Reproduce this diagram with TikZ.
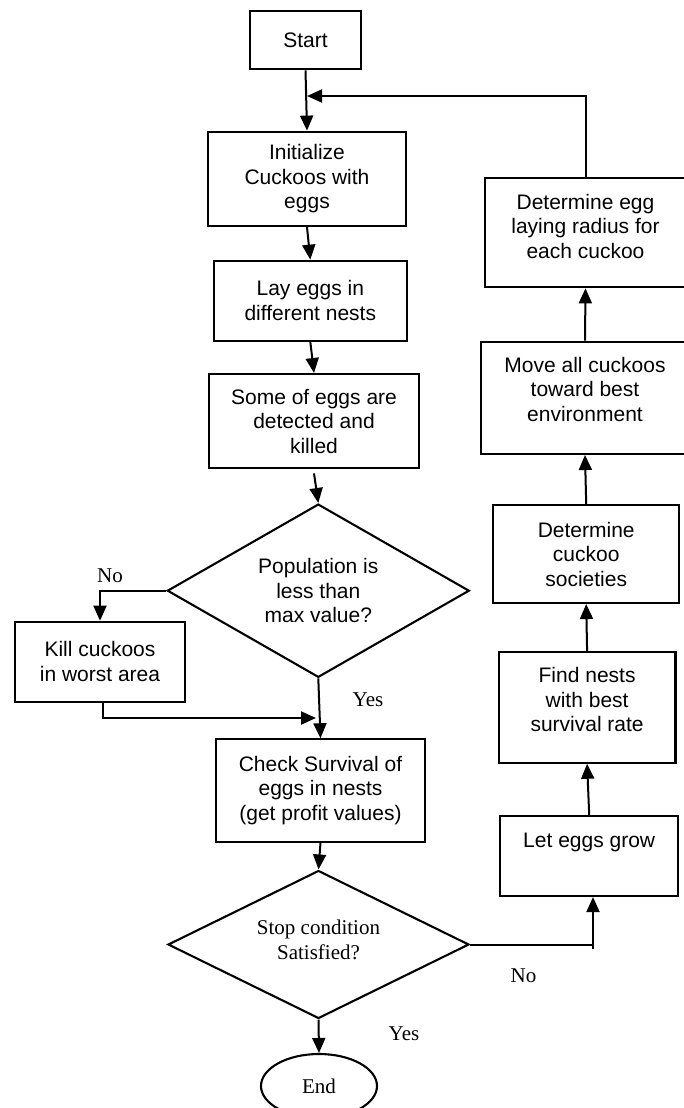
\documentclass[tikz,border=0pt]{standalone}
\usepackage{fontspec}
\setmainfont{Liberation Serif}
\setsansfont{Liberation Sans}
\usetikzlibrary{positioning, arrows.meta, shapes.geometric}

\begin{document}
\begin{tikzpicture}[
  x=1pt, y=-1pt,
  every node/.style={font=\fontsize{21}{24.5}\selectfont},
  blk/.style={draw, line width=2.1pt, align=center, inner sep=0pt,
              font=\sffamily\fontsize{21}{24.5}\selectfont},
  dec/.style={draw, diamond, line width=2.1pt, align=center, inner sep=0pt},
  term/.style={draw, ellipse, line width=2.1pt, inner sep=0pt},
  lbl/.style={font=\fontsize{21}{24}\selectfont},
  arr/.style={-{Triangle[length=15pt,width=13pt]}, line width=2pt}
]
\useasboundingbox (0,0) rectangle (683,1108);

\node[blk, minimum width=111pt, minimum height=58.6pt] (start) at (305.5,40) {Start};
\node[blk, minimum width=197.4pt, minimum height=94.3pt] (init) at (307,178.8)
   {Initialize\\Cuckoos with\\eggs};
\node[blk, minimum width=192.7pt, minimum height=80pt] (lay) at (310.3,300.7)
   {Lay eggs in\\different nests};
\node[blk, minimum width=210.6pt, minimum height=94.3pt] (detect) at (314,421.2)
   {Some of eggs are\\detected and\\killed};
\node[dec, font=\sffamily\fontsize{21}{24.5}\selectfont, aspect=1.74,
      minimum width=302pt, minimum height=173.3pt] (pop) at (318.3,590.7)
   {Population is\\less than\\max value?};
\node[blk, minimum width=170pt, minimum height=80pt] (kill) at (100,661.7)
   {Kill cuckoos\\in worst area};
\node[blk, minimum width=209pt, minimum height=102.4pt] (check) at (320.5,790.5)
   {Check Survival of\\eggs in nests\\(get profit values)};
\node[dec, aspect=2.03, text depth=9.5pt,
      minimum width=301pt, minimum height=148pt] (stop) at (318.5,944.5)
   {Stop condition\\Satisfied?};
\node[term, minimum width=116pt, minimum height=64pt] (end) at (319,1086) {End};

\node[blk, text depth=12.5pt, minimum width=201pt, minimum height=109.6pt] (radius) at (585.5,232.5)
   {Determine egg\\laying radius for\\each cuckoo};
\node[blk, text depth=17pt, minimum width=208pt, minimum height=112.3pt] (move) at (585,397.8)
   {Move all cuckoos\\toward best\\environment};
\node[blk, minimum width=186.4pt, minimum height=98pt] (soc) at (586.2,554)
   {Determine\\cuckoo\\societies};
\node[blk, text depth=15.5pt, minimum width=176.8pt, minimum height=110.4pt] (find) at (587.1,707.5)
   {Find nests\\with best\\survival rate};
\node[blk, text depth=31.5pt, minimum width=178.3pt, minimum height=80pt] (grow) at (589.2,856)
   {Let eggs grow};

\node[lbl] (no1) at (110,576) {No};
\node[lbl] (yes1) at (368,700) {Yes};
\node[lbl] (no2) at (523.5,976) {No};
\node[lbl] (yes2) at (404,1034) {Yes};

\coordinate (loop) at (307,96);
\coordinate (merge) at (316,718);
\coordinate (nojoint) at (593,944.5);

\draw[arr] (start.south) -- (init.north);
\draw[arr] (radius.north) |- (loop);
\draw[arr] (init.south) -- (lay.north);
\draw[arr] (lay.south) -- (detect.north);
\draw[arr] ([yshift=-4pt]detect.south) -- (pop.north);
\draw[arr] (pop.west) -| (kill.north);
\draw[arr] (pop.south) -- (check.north);
\draw[arr] ([xshift=3pt]kill.south) |- (merge);
\draw[arr] (check.south) -- (stop.north);
\draw[arr] (stop.south) -- (end.north);
\draw[line width=2pt] (stop.east) -- (nojoint);
\draw[arr] ([yshift=-4pt]nojoint) -- (nojoint |- grow.south);
\draw[arr] (grow.north) -- (find.south);
\draw[arr] (find.north) -- (soc.south);
\draw[arr] (soc.north) -- (move.south);
\draw[arr] (move.north) -- (radius.south);
\end{tikzpicture}
\end{document}
